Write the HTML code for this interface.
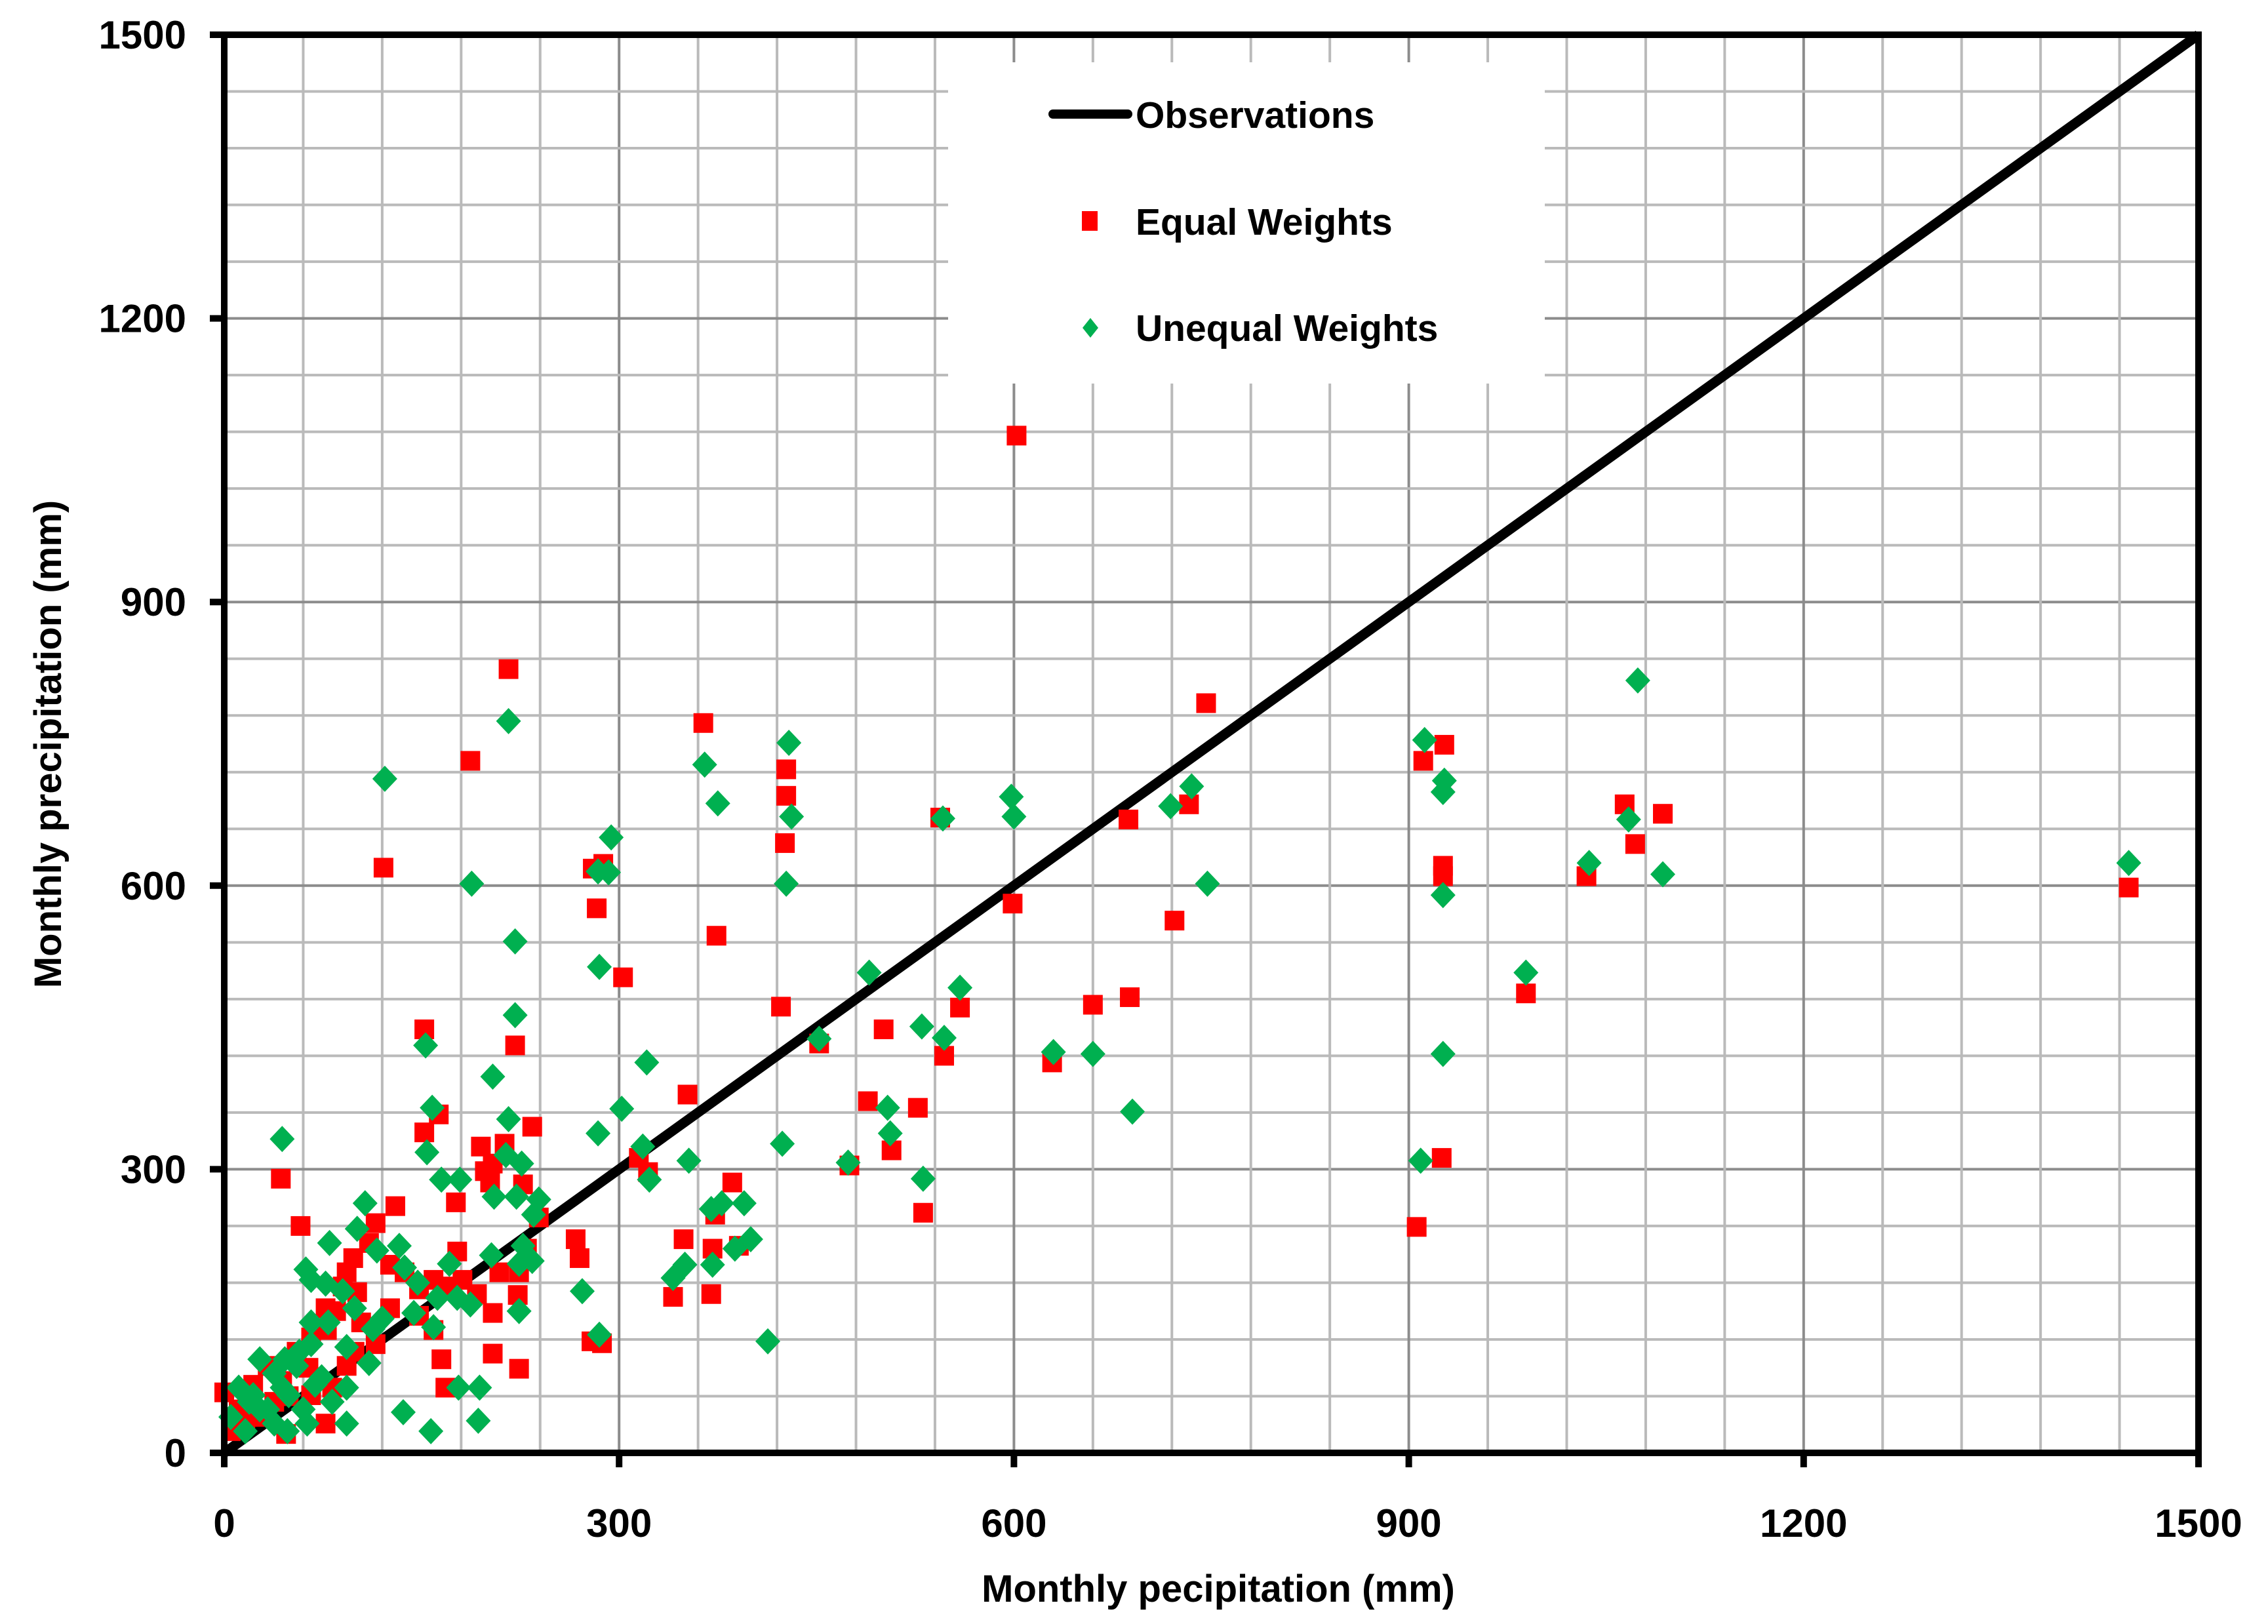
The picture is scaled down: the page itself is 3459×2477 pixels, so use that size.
<!DOCTYPE html>
<html><head><meta charset="utf-8"><style>
html,body{margin:0;padding:0;background:#fff;}
svg{display:block;}
text{font-family:"Liberation Sans",sans-serif;font-weight:bold;fill:#000;}
</style></head><body>
<svg id="chart" width="3459" height="2477" viewBox="0 0 3459 2477" xmlns="http://www.w3.org/2000/svg">
<rect width="3459" height="2477" fill="#fff"/>
<g id="grid"></g>
<rect x="1446" y="95" width="910" height="490" fill="#fff"/>
<g id="ticks"></g>
<g id="marks"></g>
<g id="axes"></g>
<g>
  <line x1="1606" y1="174" x2="1720" y2="174" stroke="#000" stroke-width="14" stroke-linecap="round"/>
  <text x="1732" y="195" font-size="57">Observations</text>
  <rect x="1650" y="322" width="24" height="30" fill="#ff0000"/>
  <text x="1732" y="358" font-size="57">Equal Weights</text>
  <polygon points="1663,485 1675,500 1663,515 1651,500" fill="#00b050"/>
  <text x="1732" y="520" font-size="57">Unequal Weights</text>
</g>
<text x="1858" y="2443" font-size="58" text-anchor="middle">Monthly pecipitation (mm)</text>
<text transform="translate(93,1135) rotate(-90)" font-size="58" text-anchor="middle">Monthly precipitation (mm)</text>
</svg>
<script>
const xTicks=[0,300,600,900,1200,1500];
const yTicks=[0,300,600,900,1200,1500];
const obsX=[0,1500];
const obsY=[0,1500];
const equalX=[602,216,364,746,187,427,427,911,927,1064,1093,1072,1035,926,926,1447,121,280,288,283,426,423,544,687,733,722,599,374,303,152,221,501,452,559,547,660,629,688,989,352,489,527,507,925,906,531,475,315,322,386,43,58,130,115,152,163,176,213,204,202,234,195,198,227,239,349,373,391,371,267,341,370,279,287,270,230,223,224,177,224,204,204,165,168,209,98,101,90,85,78,64,49,38,27,16,5,0,11,22,33,44,55,66,77,93,110,126,137,148,159,170,181,192,104,115,99,126,148,159,82,93,66,77,47];
const equalY=[1076,829,772,793,732,723,695,732,749,686,676,644,610,621,610,598,619,618,623,576,645,472,672,670,686,563,581,547,503,448,431,448,433,471,420,474,413,482,486,379,372,365,320,312,239,254,304,312,297,286,290,240,261,243,339,358,265,327,306,286,345,324,298,284,249,226,252,219,216,226,165,168,118,116,206,216,167,191,213,89,105,148,99,69,191,206,170,176,150,130,90,60,54,38,32,23,64,46,72,92,76,107,122,153,191,222,199,191,173,183,176,183,168,138,115,107,153,145,130,69,92,61,31,20];
const unequalX=[1074,216,122,429,365,375,912,927,926,735,719,598,600,431,546,1067,1037,1093,1447,926,747,427,188,292,284,294,221,285,490,559,989,221,630,660,926,547,452,530,153,321,204,158,302,504,690,216,284,506,154,424,318,214,226,909,474,353,323,531,165,179,44,107,205,222,239,235,395,378,370,400,388,272,341,350,371,285,413,227,224,224,234,203,171,101,80,62,66,90,116,133,137,147,144,162,177,187,159,120,99,77,113,93,157,193,194,178,136,110,93,93,82,69,60,48,49,38,27,22,11,5,16,33,44,55,38,27,19,57,66,66,79,46,74,63];
const unequalY=[817,774,713,751,728,687,754,711,699,705,684,694,673,673,671,670,624,612,624,590,602,602,602,614,615,651,541,514,508,492,508,463,424,422,422,439,438,451,431,413,398,365,364,365,361,353,338,338,318,327,324,315,306,309,307,309,289,290,289,289,332,264,271,271,268,252,264,264,258,226,216,171,185,199,199,125,118,219,200,150,203,209,200,237,222,194,183,171,214,219,196,180,148,164,164,157,133,142,153,179,131,112,23,34,69,69,43,95,69,31,54,72,46,23,61,84,99,61,69,38,23,46,69,92,31,46,54,107,138,115,138,99,80,31];

const X0=342,X1=3353,Y0=2216,Y1=53;
const sx=v=>X0+(v/1500)*(X1-X0);
const sy=v=>Y0-(v/1500)*(Y0-Y1);
const NS='http://www.w3.org/2000/svg';
function mk(tag,attrs,parent){const e=document.createElementNS(NS,tag);for(const k in attrs)e.setAttribute(k,attrs[k]);parent.appendChild(e);return e;}
const grid=document.getElementById('grid');
for(let v=60;v<1500;v+=60){
  const major=v%300===0;
  const c=major?'#8c8c8c':'#bababa';
  const gx=mk('line',{x1:sx(v),x2:sx(v),y1:Y1,y2:Y0,stroke:c,'stroke-width':4},grid);
  
  
  const gy=mk('line',{x1:X0,x2:X1,y1:sy(v),y2:sy(v),stroke:c,'stroke-width':4},grid);
  
  
}
const ticks=document.getElementById('ticks');
const axes=document.getElementById('axes');
xTicks.forEach(t=>{
  const tx=mk('text',{x:sx(t),y:2344,'font-size':60,'text-anchor':'middle'},ticks);
  tx.textContent=t;
  
  
  const tm=mk('line',{x1:sx(t),x2:sx(t),y1:Y0,y2:Y0+22,stroke:'#000','stroke-width':10},axes);
  
  
});
yTicks.forEach(t=>{
  const ty=mk('text',{x:284,y:sy(t)+21,'font-size':60,'text-anchor':'end'},ticks);
  ty.textContent=t;
  
  
  const tm=mk('line',{x1:X0-22,x2:X0,y1:sy(t),y2:sy(t),stroke:'#000','stroke-width':10},axes);
  
  
});
const frame=mk('rect',{x:X0,y:Y1,width:X1-X0,height:Y0-Y1,fill:'none',stroke:'#000','stroke-width':10},axes);



const marks=document.getElementById('marks');
const obs=mk('line',{x1:sx(obsX[0]),y1:sy(obsY[0]),x2:sx(obsX[1]),y2:sy(obsY[1]),stroke:'#000','stroke-width':15},marks);


equalX.forEach((x,i)=>{
  const r=mk('rect',{x:sx(x)-15,y:sy(equalY[i])-15,width:30,height:30,fill:'#ff0000'},marks);
  
  
});
unequalX.forEach((x,i)=>{
  const cx=sx(x),cy=sy(unequalY[i]);
  const p=mk('polygon',{points:`${cx},${cy-20} ${cx+19},${cy} ${cx},${cy+20} ${cx-19},${cy}`,fill:'#00b050'},marks);
  
  
});
</script>
</body></html>
